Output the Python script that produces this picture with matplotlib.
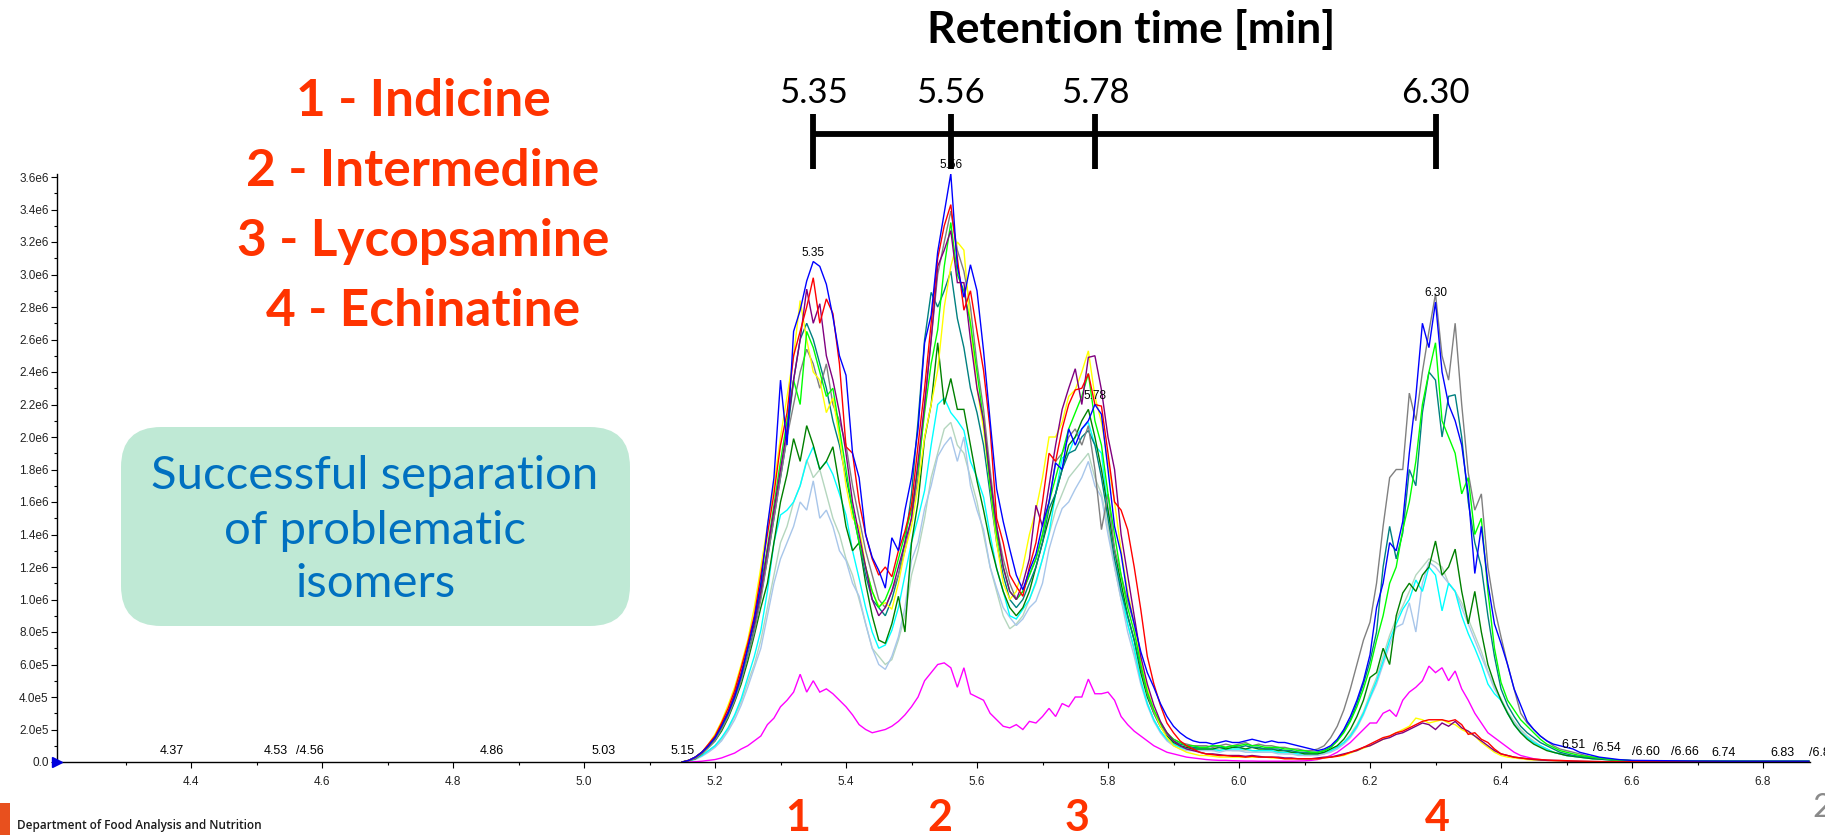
import numpy as np
import matplotlib
matplotlib.use("Agg")
import matplotlib.pyplot as plt
from matplotlib.patches import FancyBboxPatch, Rectangle
from matplotlib.ticker import MultipleLocator, FixedLocator, FuncFormatter

# ---------------------------------------------------------------------------
# Scan times (min): 0.01 min sampling across the elution window plus a sparse tail
rt = np.round(np.concatenate([np.arange(5.15, 6.605, 0.01),
                              [6.65, 6.70, 6.75, 6.80, 6.87]]), 2)

# Intensities of the overlaid extracted-ion chromatograms, in units of 1e5 counts
int_blue = [
    0.0, 0.1, 0.3, 0.6, 1.0,  1.5, 2.2, 3.0, 4.0, 5.3,  7.0, 8.8, 11.0, 14.5, 17.5,
    23.5, 19.5, 26.5, 27.8, 29.6,  30.8, 30.5, 29.4, 27.4, 25.0,  23.8, 19.0, 17.5, 14.0, 12.6,
    11.8, 10.7, 13.8, 13.0, 15.5,  17.5, 20.5, 25.8, 27.5, 31.4,  33.8, 36.2, 30.5, 28.6, 30.6,
    29.0, 25.3, 21.0, 16.8, 14.8,  13.1, 11.5, 10.6, 11.8, 12.8,  14.6, 16.0, 18.4, 18.0, 20.5,
    19.5, 20.5, 21.0, 22.0, 21.4,  18.0, 14.5, 12.8, 10.2, 8.5,  6.8, 5.5, 4.6, 3.6, 2.8,
    2.2, 1.8, 1.5, 1.3, 1.2,  1.2, 1.1, 1.2, 1.3, 1.2,  1.2, 1.3, 1.4, 1.3, 1.2,
    1.3, 1.2, 1.2, 1.1, 1.0,  0.9, 0.8, 0.7, 0.8, 1.0,  1.4, 2.0, 2.8, 3.8, 5.0,
    6.6, 9.5, 11.0, 13.5, 13.0,  14.8, 19.0, 22.5, 27.0, 25.5,  28.3, 24.0, 22.0, 21.0, 19.5,
    16.5, 11.6, 14.5, 11.0, 8.5,  7.3, 6.0, 4.5, 3.5, 2.5,  2.0, 1.6, 1.3, 1.1, 1.0,
    0.9, 0.8, 0.6, 0.5, 0.4,  0.3, 0.25, 0.2, 0.15, 0.12,  0.1,
    0.08, 0.06, 0.05, 0.05, 0.05]

int_red = [
    0.0, 0.1, 0.3, 0.6, 1.1,  1.6, 2.4, 3.3, 4.4, 5.8,  7.3, 9.0, 11.5, 14.0, 16.5,
    19.5, 21.5, 25.0, 26.5, 28.0,  29.8, 27.0, 28.5, 27.6, 24.5,  19.4, 19.0, 16.0, 14.0, 12.5,
    11.5, 12.0, 11.4, 13.0, 14.2,  15.8, 19.5, 23.0, 27.0, 31.0,  33.0, 34.3, 31.0, 27.8, 29.0,
    26.5, 24.1, 20.5, 15.0, 13.5,  11.5, 10.8, 10.2, 12.0, 13.5,  16.0, 19.0, 18.5, 20.5, 22.0,
    22.9, 23.0, 23.9, 22.0, 21.9,  19.0, 16.0, 15.5, 14.3, 12.0,  9.4, 6.5, 4.8, 3.5, 2.4,
    1.8, 1.3, 1.0, 0.8, 0.6,  0.5, 0.45, 0.4, 0.4, 0.35,  0.35, 0.3, 0.35, 0.3, 0.3,
    0.3, 0.25, 0.2, 0.2, 0.2,  0.2, 0.2, 0.2, 0.25, 0.3,  0.35, 0.45, 0.6, 0.75, 0.9,
    1.1, 1.3, 1.5, 1.6, 1.8,  1.9, 2.1, 2.3, 2.5, 2.6,  2.6, 2.6, 2.5, 2.6, 2.3,
    1.7, 1.8, 1.4, 1.2, 0.8,  0.5, 0.4, 0.3, 0.25, 0.2,  0.18, 0.15, 0.12, 0.1, 0.1,
    0.08, 0.06, 0.05, 0.04, 0.03,  0.03, 0.02, 0.02, 0.02, 0.02,  0.02,
    0.02, 0.02, 0.01, 0.01, 0.01]

int_purple = [
    0.0, 0.1, 0.3, 0.6, 1.0,  1.5, 2.3, 3.1, 4.2, 5.5,  7.0, 8.5, 10.5, 13.0, 15.5,
    18.0, 20.5, 23.5, 26.0, 29.1,  27.0, 28.2, 25.0, 23.5, 21.5,  19.0, 16.0, 14.0, 12.0, 10.0,
    9.0, 9.5, 10.5, 12.0, 13.5,  15.0, 18.5, 22.0, 26.0, 30.5,  31.5, 32.7, 29.5, 29.5, 26.0,
    23.0, 21.0, 17.5, 14.5, 12.0,  10.5, 10.0, 11.0, 12.5, 15.8,  14.5, 17.0, 19.5, 21.7, 23.0,
    24.2, 22.0, 24.9, 25.0, 22.9,  20.0, 18.0, 14.0, 11.5, 9.0,  6.5, 4.8, 3.5, 2.5, 1.8,
    1.3, 1.0, 0.8, 0.7, 0.6,  0.5, 0.5, 0.45, 0.4, 0.4,  0.4, 0.35, 0.4, 0.35, 0.3,
    0.3, 0.3, 0.25, 0.25, 0.2,  0.2, 0.2, 0.25, 0.3, 0.3,  0.4, 0.5, 0.6, 0.7, 0.9,
    1.0, 1.2, 1.4, 1.5, 1.7,  1.8, 2.0, 2.2, 2.4, 2.3,  2.0, 2.4, 2.2, 2.5, 2.1,
    1.9, 1.6, 1.3, 1.0, 0.7,  0.5, 0.4, 0.3, 0.25, 0.2,  0.15, 0.12, 0.1, 0.1, 0.08,
    0.06, 0.05, 0.04, 0.03, 0.03,  0.02, 0.02, 0.02, 0.02, 0.02,  0.02,
    0.02, 0.01, 0.01, 0.01, 0.01]

int_gray = [
    0.0, 0.1, 0.2, 0.5, 0.9,  1.3, 2.0, 2.8, 3.8, 5.0,  6.5, 8.0, 10.0, 12.5, 15.0,
    17.5, 20.0, 22.0, 24.0, 25.4,  24.5, 23.0, 24.5, 22.0, 21.0,  19.5, 17.0, 15.0, 13.0, 11.5,
    10.0, 9.5, 10.5, 11.5, 13.0,  15.0, 17.5, 22.0, 26.0, 30.0,  32.0, 33.9, 31.5, 30.2, 28.0,
    24.5, 21.7, 18.0, 14.5, 12.5,  11.0, 10.0, 10.5, 11.5, 12.5,  14.0, 16.0, 18.5, 19.0, 20.0,
    20.5, 19.5, 20.7, 18.0, 14.3,  16.5, 13.1, 11.5, 9.9, 8.5,  6.0, 4.2, 3.0, 2.2, 1.7,
    1.4, 1.2, 1.1, 1.0, 1.0,  1.0, 0.9, 1.0, 1.1, 1.0,  1.1, 1.2, 1.0, 1.1, 1.0,
    1.0, 0.9, 0.9, 0.8, 0.8,  0.7, 0.7, 0.8, 1.0, 1.5,  2.2, 3.2, 4.5, 6.0, 7.5,
    8.6, 11.0, 14.5, 17.5, 18.0,  18.0, 22.7, 21.0, 24.0, 26.5,  28.8, 25.0, 23.5, 27.0, 22.0,
    17.8, 15.5, 16.5, 12.0, 9.5,  7.7, 6.0, 4.5, 3.0, 2.4,  2.0, 1.6, 1.3, 1.0, 0.8,
    0.7, 0.6, 0.5, 0.4, 0.3,  0.25, 0.2, 0.15, 0.12, 0.1,  0.08,
    0.06, 0.05, 0.04, 0.04, 0.04]

int_lime = [
    0.0, 0.1, 0.3, 0.6, 1.0,  1.5, 2.2, 3.0, 4.1, 5.4,  7.0, 8.6, 10.8, 13.2, 15.8,
    18.5, 21.0, 23.5, 22.0, 26.5,  25.5, 24.0, 22.5, 23.0, 20.5,  18.0, 15.5, 13.5, 12.0, 10.5,
    9.5, 10.0, 11.0, 12.5, 14.0,  15.5, 18.0, 21.5, 24.5, 26.6,  30.5, 33.2, 30.0, 29.0, 27.0,
    24.0, 21.0, 17.0, 14.0, 12.0,  10.5, 10.0, 10.5, 11.5, 12.5,  14.0, 16.0, 17.5, 19.0, 20.5,
    21.5, 22.5, 23.9, 21.0, 19.5,  16.5, 14.0, 11.5, 9.5, 8.0,  6.0, 4.3, 3.2, 2.4, 1.8,
    1.4, 1.2, 1.0, 1.0, 0.9,  0.9, 1.0, 1.0, 0.9, 1.0,  1.0, 1.1, 1.0, 1.0, 0.9,
    0.9, 0.9, 0.8, 0.8, 0.7,  0.7, 0.6, 0.6, 0.7, 0.9,  1.3, 1.8, 2.5, 3.4, 4.5,
    5.8, 7.5, 9.0, 11.0, 12.0,  14.3, 16.0, 18.5, 22.0, 24.0,  25.8, 21.0, 20.0, 19.0, 16.5,
    17.5, 14.0, 15.0, 10.5, 7.0,  4.9, 3.8, 3.2, 2.6, 2.2,  1.8, 1.4, 1.1, 0.9, 0.7,
    0.6, 0.5, 0.4, 0.35, 0.3,  0.25, 0.2, 0.15, 0.12, 0.1,  0.08,
    0.06, 0.05, 0.04, 0.04, 0.04]

int_yellow = [
    0.0, 0.1, 0.3, 0.6, 1.1,  1.7, 2.5, 3.5, 4.6, 6.0,  7.5, 9.5, 12.0, 14.5, 17.0,
    20.0, 22.5, 25.0, 28.4, 26.0,  24.0, 23.5, 21.5, 22.4, 20.0,  17.0, 15.0, 14.5, 12.0, 10.5,
    9.6, 9.8, 9.4, 11.0, 13.0,  14.5, 17.0, 20.0, 22.0, 24.1,  28.0, 30.5, 32.0, 31.5, 27.0,
    23.0, 20.5, 17.0, 13.5, 11.0,  10.0, 10.5, 12.0, 14.0, 15.5,  17.5, 20.0, 20.0, 20.9, 22.5,
    22.9, 24.0, 25.3, 22.5, 20.9,  18.5, 16.0, 13.0, 10.5, 8.5,  6.2, 4.5, 3.2, 2.2, 1.5,
    1.0, 0.8, 0.6, 0.5, 0.4,  0.4, 0.35, 0.3, 0.3, 0.3,  0.3, 0.3, 0.3, 0.3, 0.3,
    0.25, 0.25, 0.2, 0.2, 0.2,  0.2, 0.2, 0.2, 0.25, 0.3,  0.35, 0.4, 0.55, 0.7, 0.85,
    1.0, 1.2, 1.4, 1.6, 1.8,  2.0, 2.2, 2.7, 2.6, 2.4,  2.5, 2.6, 2.4, 2.3, 2.0,
    1.8, 1.6, 1.2, 0.9, 0.6,  0.4, 0.3, 0.25, 0.2, 0.15,  0.12, 0.1, 0.1, 0.08, 0.06,
    0.05, 0.04, 0.03, 0.03, 0.02,  0.02, 0.02, 0.02, 0.02, 0.02,  0.02,
    0.02, 0.01, 0.01, 0.01, 0.01]

int_darkgreen = [
    0.0, 0.1, 0.2, 0.5, 0.9,  1.3, 1.9, 2.7, 3.7, 4.8,  6.2, 7.8, 9.5, 11.0, 13.5,
    16.0, 17.7, 19.9, 18.5, 20.7,  19.5, 18.0, 18.5, 19.4, 17.0,  14.5, 13.0, 13.5, 11.0, 9.0,
    7.5, 7.3, 8.5, 10.2, 8.0,  13.5, 16.0, 19.9, 22.0, 25.8,  22.0, 23.6, 21.7, 21.7, 19.5,
    17.3, 15.5, 13.5, 11.9, 10.5,  9.5, 9.0, 9.5, 10.5, 12.0,  13.5, 15.0, 16.5, 18.0, 19.5,
    20.0, 21.0, 21.7, 20.0, 18.0,  15.5, 13.0, 11.0, 9.0, 7.5,  5.5, 4.0, 3.0, 2.2, 1.6,
    1.2, 1.0, 0.9, 0.8, 0.8,  0.8, 0.8, 0.9, 0.8, 0.9,  0.9, 0.8, 0.9, 0.8, 0.8,
    0.8, 0.7, 0.7, 0.6, 0.6,  0.5, 0.5, 0.5, 0.6, 0.8,  1.0, 1.4, 2.0, 2.8, 3.8,
    5.2, 5.5, 7.0, 6.0, 9.0,  10.4, 11.0, 10.5, 11.5, 12.0,  13.6, 11.5, 12.0, 13.1, 10.5,
    8.5, 10.5, 8.0, 6.0, 4.8,  3.8, 3.0, 2.3, 1.8, 1.4,  1.1, 0.9, 0.7, 0.6, 0.5,
    0.4, 0.35, 0.3, 0.25, 0.2,  0.18, 0.15, 0.12, 0.1, 0.1,  0.08,
    0.06, 0.05, 0.05, 0.04, 0.04]

int_teal = [
    0.0, 0.1, 0.3, 0.6, 1.0,  1.4, 2.1, 2.9, 3.9, 5.1,  6.6, 8.2, 10.2, 12.5, 15.0,
    17.5, 20.0, 23.5, 26.0, 27.0,  26.0, 24.5, 23.0, 21.0, 19.5,  17.5, 15.5, 13.5, 11.5, 10.0,
    9.5, 9.0, 10.0, 11.5, 13.5,  16.5, 21.0, 26.0, 28.9, 28.0,  29.0, 30.2, 27.3, 25.5, 23.0,
    21.5, 19.5, 16.5, 13.5, 11.5,  10.0, 9.5, 10.0, 11.0, 12.0,  13.5, 15.6, 16.5, 18.0, 19.0,
    19.2, 20.0, 20.4, 19.5, 17.5,  15.0, 12.5, 10.5, 9.0, 7.5,  5.8, 4.2, 3.1, 2.3, 1.7,
    1.3, 1.1, 1.0, 0.9, 0.9,  0.9, 1.0, 0.9, 0.9, 1.0,  0.9, 1.0, 0.9, 0.9, 0.8,
    0.8, 0.8, 0.7, 0.7, 0.6,  0.6, 0.6, 0.6, 0.7, 0.9,  1.3, 1.9, 2.6, 3.6, 4.8,
    6.2, 8.0, 12.0, 14.5, 12.5,  14.1, 18.0, 17.0, 21.5, 24.0,  23.5, 20.0, 22.5, 22.6, 20.0,
    16.0, 13.5, 12.0, 9.0, 6.5,  4.5, 3.5, 2.8, 2.2, 1.8,  1.5, 1.2, 1.0, 0.8, 0.6,
    0.5, 0.4, 0.35, 0.3, 0.25,  0.2, 0.18, 0.15, 0.12, 0.1,  0.08,
    0.06, 0.05, 0.04, 0.04, 0.04]

int_cyan = [
    0.0, 0.05, 0.2, 0.4, 0.7,  1.0, 1.5, 2.1, 2.9, 3.9,  5.2, 6.5, 8.1, 10.5, 13.5,
    15.2, 15.5, 16.0, 17.0, 18.5,  19.4, 18.0, 18.5, 17.7, 16.5,  15.2, 13.0, 11.3, 9.5, 8.0,
    7.0, 7.2, 8.1, 9.5, 11.5,  13.5, 15.0, 16.7, 19.5, 22.0,  22.4, 21.5, 21.0, 20.4, 18.5,
    17.5, 16.3, 14.0, 11.9, 10.5,  9.0, 8.8, 9.4, 10.0, 11.1,  12.5, 14.1, 16.5, 18.7, 19.0,
    20.0, 20.5, 20.9, 19.5, 19.0,  15.5, 13.1, 10.5, 8.5, 7.0,  5.0, 3.6, 2.6, 1.9, 1.4,
    1.1, 0.9, 0.8, 0.8, 0.8,  0.8, 0.8, 0.7, 0.8, 0.8,  0.8, 0.8, 0.7, 0.7, 0.7,
    0.7, 0.6, 0.6, 0.6, 0.5,  0.5, 0.5, 0.5, 0.6, 0.7,  0.9, 1.2, 1.6, 2.2, 3.0,
    4.0, 5.0, 6.2, 7.5, 8.5,  9.4, 10.0, 11.2, 10.5, 12.0,  11.5, 9.3, 11.0, 10.5, 9.0,
    7.9, 7.0, 6.0, 4.8, 4.2,  3.8, 3.0, 2.3, 1.8, 1.5,  1.2, 1.0, 0.8, 0.6, 0.5,
    0.4, 0.35, 0.3, 0.25, 0.2,  0.18, 0.15, 0.12, 0.1, 0.08,  0.07,
    0.05, 0.04, 0.04, 0.03, 0.03]

int_lightblue = [
    0.0, 0.05, 0.15, 0.35, 0.6,  0.9, 1.3, 1.9, 2.6, 3.5,  4.6, 5.8, 7.0, 9.0, 11.0,
    12.5, 13.5, 14.5, 16.0, 15.5,  17.3, 15.0, 15.5, 14.5, 13.0,  12.4, 11.0, 10.2, 8.5, 7.0,
    6.0, 5.7, 6.5, 7.7, 9.5,  12.4, 13.5, 15.6, 17.0, 18.8,  19.5, 20.0, 18.5, 20.0, 17.0,
    15.5, 14.3, 12.0, 10.7, 9.5,  8.9, 8.4, 8.8, 9.5, 9.9,  11.0, 13.1, 14.5, 15.6, 16.0,
    16.8, 17.5, 18.5, 17.0, 16.3,  14.0, 12.0, 10.0, 8.0, 6.5,  4.8, 3.5, 2.5, 1.8, 1.3,
    1.0, 0.8, 0.7, 0.7, 0.7,  0.7, 0.7, 0.6, 0.7, 0.7,  0.7, 0.6, 0.6, 0.6, 0.6,
    0.6, 0.5, 0.5, 0.5, 0.4,  0.4, 0.4, 0.4, 0.5, 0.6,  0.8, 1.1, 1.5, 2.1, 2.9,
    3.9, 4.8, 6.0, 7.2, 8.3,  8.5, 9.8, 8.0, 11.0, 12.3,  12.0, 11.5, 11.0, 10.5, 9.5,
    8.5, 7.5, 6.5, 5.5, 4.5,  3.8, 3.0, 2.4, 1.9, 1.5,  1.2, 1.0, 0.8, 0.6, 0.5,
    0.4, 0.35, 0.3, 0.25, 0.2,  0.18, 0.15, 0.12, 0.1, 0.08,  0.07,
    0.05, 0.04, 0.04, 0.03, 0.03]

int_palegreen = [
    0.0, 0.05, 0.2, 0.4, 0.7,  1.0, 1.4, 2.0, 2.8, 3.7,  4.9, 6.0, 7.5, 9.5, 11.5,
    13.5, 14.5, 16.0, 17.0, 18.6,  17.5, 18.0, 16.5, 15.0, 14.0,  12.5, 11.5, 10.0, 8.5, 7.0,
    6.5, 6.0, 6.3, 7.5, 9.0,  11.5, 13.0, 15.0, 17.5, 19.0,  20.5, 20.9, 19.5, 19.0, 17.5,
    16.0, 14.0, 12.0, 10.5, 9.0,  8.2, 8.5, 9.0, 10.0, 11.0,  12.5, 14.0, 15.5, 16.5, 17.5,
    18.0, 18.5, 19.0, 17.5, 16.5,  14.5, 12.0, 10.0, 8.5, 6.8,  5.0, 3.6, 2.6, 1.9, 1.4,
    1.1, 0.9, 0.8, 0.8, 0.8,  0.8, 0.7, 0.8, 0.8, 0.7,  0.7, 0.7, 0.7, 0.6, 0.6,
    0.6, 0.6, 0.5, 0.5, 0.5,  0.4, 0.4, 0.5, 0.5, 0.7,  0.9, 1.2, 1.7, 2.3, 3.1,
    4.2, 5.2, 6.5, 7.8, 8.8,  9.6, 10.5, 11.5, 12.0, 12.5,  12.3, 12.0, 11.0, 10.5, 9.8,
    8.8, 7.8, 6.8, 5.6, 4.6,  3.9, 3.1, 2.5, 2.0, 1.6,  1.3, 1.0, 0.8, 0.6, 0.5,
    0.4, 0.35, 0.3, 0.25, 0.2,  0.18, 0.15, 0.12, 0.1, 0.08,  0.07,
    0.05, 0.04, 0.04, 0.03, 0.03]

int_magenta = [
    0.0, 0.0, 0.02, 0.05, 0.1,  0.15, 0.25, 0.4, 0.55, 0.8,  1.0, 1.3, 1.6, 2.3, 2.7,
    3.4, 3.8, 4.3, 5.4, 4.3,  5.0, 4.3, 4.5, 4.2, 3.8,  3.4, 2.9, 2.3, 2.0, 1.8,
    1.9, 2.0, 2.2, 2.5, 2.9,  3.4, 4.0, 5.0, 5.5, 6.0,  6.1, 5.8, 4.6, 5.8, 4.2,
    4.0, 3.8, 3.0, 2.6, 2.2,  2.1, 2.3, 2.0, 2.5, 2.4,  2.8, 3.3, 2.8, 3.6, 3.4,
    4.0, 4.0, 5.1, 4.2, 4.2,  4.3, 3.8, 2.8, 2.3, 1.9,  1.6, 1.3, 1.0, 0.8, 0.6,
    0.5, 0.4, 0.3, 0.25, 0.2,  0.15, 0.12, 0.1, 0.1, 0.08,  0.07, 0.06, 0.06, 0.05, 0.05,
    0.05, 0.05, 0.05, 0.05, 0.06,  0.07, 0.1, 0.15, 0.25, 0.4,  0.6, 0.9, 1.2, 1.6, 2.0,
    2.4, 2.4, 3.0, 3.2, 2.8,  3.8, 4.3, 4.6, 5.0, 5.9,  5.5, 5.8, 5.0, 5.6, 4.5,
    3.8, 3.0, 2.4, 1.8, 1.5,  1.2, 0.9, 0.6, 0.4, 0.3,  0.2, 0.15, 0.1, 0.08, 0.06,
    0.05, 0.04, 0.03, 0.03, 0.02,  0.02, 0.02, 0.02, 0.02, 0.02,  0.02,
    0.01, 0.01, 0.01, 0.01, 0.01]

# Apex labels (blue trace) and the retention-time scale bar
apex_rt = [5.35, 5.56, 5.78, 6.30]
apex_text = ["5.35", "5.56", "5.78", "6.30"]

# Small peak-picker labels along the baseline: rt, text, leader slash, height (1e5)
noise_rt = [4.37, 4.53, 4.56, 4.86, 5.03, 5.15, 6.51, 6.54, 6.60, 6.66, 6.74, 6.83, 6.87]
noise_text = ["4.37", "4.53", "4.56", "4.86", "5.03", "5.15", "6.51", "6.54",
              "6.60", "6.66", "6.74", "6.83", "6.87"]
noise_slash = [False, False, True, False, False, False, False, True, True, True, False, False, True]
noise_h = [0.68, 0.68, 0.68, 0.68, 0.68, 0.68, 1.05, 0.86, 0.62, 0.62, 0.55, 0.55, 0.55]

# Axis ticks
x_major = [4.4, 4.6, 4.8, 5.0, 5.2, 5.4, 5.6, 5.8, 6.0, 6.2, 6.4, 6.6, 6.8]
x_minor = [4.3, 4.5, 4.7, 4.9, 5.1, 5.3, 5.5, 5.7, 5.9, 6.1, 6.3, 6.5, 6.7]

compounds = ["1 - Indicine", "2 - Intermedine", "3 - Lycopsamine", "4 - Echinatine"]
peak_numbers = ["1", "2", "3", "4"]

SCALE = 1e5
W, H = 1825, 835
ORANGE_RED = "#FF3300"


def fx(px):
    return px / W


def fy(py):
    return 1 - py / H


fig = plt.figure(figsize=(W / 100, H / 100), dpi=100)
fig.patch.set_facecolor("white")

# Chromatogram axes
ax_left, ax_right, ax_bottom, ax_top = 57, 1810, 762, 174
ax = fig.add_axes([fx(ax_left), fy(ax_bottom), fx(ax_right - ax_left), (ax_bottom - ax_top) / H])
px_per_min = 655.0
x0 = 4.4 - (191 - ax_left) / px_per_min
ax.set_xlim(x0, x0 + (ax_right - ax_left) / px_per_min)
ymax = 3.6e6 * (ax_bottom - ax_top) / 585.0
ax.set_ylim(0, ymax)

traces = [
    (int_palegreen, "#B4D6BE"),
    (int_lightblue, "#A8C6EA"),
    (int_cyan, "#00FFFF"),
    (int_magenta, "#FF00FF"),
    (int_darkgreen, "#008000"),
    (int_teal, "#008080"),
    (int_gray, "#808080"),
    (int_yellow, "#FFFF00"),
    (int_lime, "#00FF00"),
    (int_purple, "#800080"),
    (int_red, "#FF0000"),
    (int_blue, "#0000FF"),
]
for vals, col in traces:
    assert len(vals) == len(rt)
    ax.plot(rt, np.asarray(vals) * SCALE, color=col, lw=1.0, solid_joinstyle="miter", zorder=2)

for s in ("top", "right"):
    ax.spines[s].set_visible(False)
for s in ("left", "bottom"):
    ax.spines[s].set_color("black")
    ax.spines[s].set_linewidth(1.0)

ax.xaxis.set_major_locator(FixedLocator(x_major))
ax.xaxis.set_minor_locator(FixedLocator(x_minor))
ax.yaxis.set_major_locator(MultipleLocator(2e5))
ax.yaxis.set_minor_locator(MultipleLocator(1e5))


def y_fmt(v, pos):
    if v < -1:
        return ""
    if abs(v) <= 1:
        return "0.0"
    exp = int(np.floor(np.log10(v) + 1e-9))
    return f"{v / 10 ** exp:.1f}e{exp}"


ax.yaxis.set_major_formatter(FuncFormatter(y_fmt))
ax.xaxis.set_major_formatter(FuncFormatter(lambda v, p: f"{v:.1f}"))
ax.tick_params(axis="both", which="major", direction="out", length=4, width=0.8,
               labelsize=8.5, colors="black", labelcolor="#222222")
ax.tick_params(axis="both", which="minor", direction="out", length=2.5, width=0.8, colors="black")
ax.tick_params(axis="x", pad=6)
ax.tick_params(axis="y", pad=2)
for lab in ax.get_xticklabels() + ax.get_yticklabels():
    lab.set_fontfamily("Liberation Sans")

# Origin marker
ax.plot([x0], [0], marker=">", color="#0000DD", markersize=7, clip_on=False, zorder=5)

# Apex labels on the blue trace
blue_arr = np.asarray(int_blue) * SCALE
for r, t in zip(apex_rt, apex_text):
    i = int(np.argmin(np.abs(rt - r)))
    ax.annotate(t, (r, blue_arr[i]), xytext=(0, 2), textcoords="offset points",
                ha="center", va="bottom", fontsize=8.5, family="Liberation Sans",
                color="black", zorder=6, annotation_clip=False)

# Baseline peak-picker labels
for r, t, sl, h in zip(noise_rt, noise_text, noise_slash, noise_h):
    if sl:
        ax.text(r, h * SCALE, "/" + t, ha="left", va="center", fontsize=9,
                family="Liberation Sans", color="black", clip_on=False)
    else:
        ax.text(r, h * SCALE, t, ha="center", va="center", fontsize=9,
                family="Liberation Sans", color="black", clip_on=False)


# Retention-time scale bar above the chromatogram
def val_at(py):
    return (ax_bottom - py) / 585.0 * 3.6e6


bar_y, tick_top, tick_bot, lab_y = val_at(134), val_at(114), val_at(169), val_at(93)
ax.plot([apex_rt[0], apex_rt[-1]], [bar_y, bar_y], color="black", lw=4.2,
        solid_capstyle="butt", clip_on=False, zorder=7)
ax.vlines(apex_rt, tick_bot, tick_top, color="black", lw=4.2, clip_on=False, zorder=7)
for r, t in zip(apex_rt, apex_text):
    ax.text(r, lab_y, t, ha="center", va="center", fontsize=25, family="Lato",
            color="black", clip_on=False)
fig.text(fx(1131), fy(29), "Retention time [min]", ha="center", va="center",
         fontsize=32, fontweight="bold", family="Lato", color="black")

# Compound legend
for t, py in zip(compounds, [101, 171, 241, 312]):
    fig.text(fx(423), fy(py), t, ha="center", va="center", fontsize=37,
             fontweight="bold", family="Lato", color=ORANGE_RED)

# Highlight box
box = FancyBboxPatch((fx(121), fy(626)), fx(630 - 121), (626 - 427) / H,
                     boxstyle="round,pad=0,rounding_size=0.022",
                     transform=fig.transFigure, facecolor="#BFE9D5", edgecolor="none",
                     mutation_aspect=W / H)
fig.patches.append(box)
for t, py in zip(["Successful separation", "of problematic", "isomers"], [476, 531, 584]):
    fig.text(fx(375), fy(py), t, ha="center", va="center", fontsize=34,
             family="Lato", color="#0070C0")

# Peak numbers under the axis
for t, px in zip(peak_numbers, [798, 940, 1077, 1437]):
    fig.text(fx(px), fy(818), t, ha="center", va="center", fontsize=31,
             fontweight="bold", family="Lato", color=ORANGE_RED)

# Footer
fig.patches.append(Rectangle((0, 0), fx(10), 32 / H, transform=fig.transFigure,
                             facecolor="#E8501E", edgecolor="none"))
fig.text(fx(17), fy(826), "Department of Food Analysis and Nutrition", ha="left",
         va="center", fontsize=8.5, fontweight="semibold", family="Open Sans", color="#1a1a1a")
fig.text(fx(1812), fy(808), "2", ha="left", va="center", fontsize=24,
         family="Lato", color="#8a8a8a")

fig.savefig("out.png", dpi=100, facecolor="white")
